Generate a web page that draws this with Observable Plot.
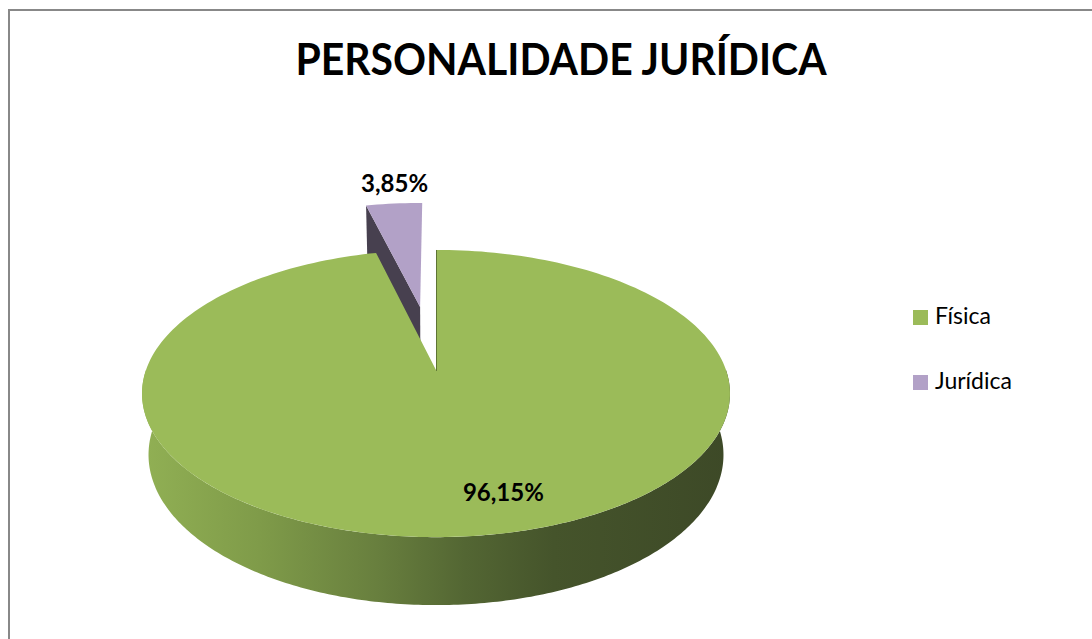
<!DOCTYPE html>
<html><head><meta charset="utf-8">
<script src="https://cdn.jsdelivr.net/npm/d3@7"></script>
<script src="https://cdn.jsdelivr.net/npm/@observablehq/plot@0.6"></script>
<style>
html,body{margin:0;padding:0;background:#fff;}
#chart{position:relative;width:1092px;height:639px;overflow:hidden;font-family:Lato,"Open Sans",sans-serif;background:#fff;}
#frame{position:absolute;left:8px;top:9px;width:1200px;height:800px;border-left:2px solid #888;border-top:2px solid #888;box-sizing:border-box;}
#plot{position:absolute;left:0;top:0;}
#title{position:absolute;left:0;top:36px;width:1122px;text-align:center;font-weight:700;font-size:44px;line-height:44px;color:#000;white-space:nowrap;transform:scaleX(0.93);transform-origin:561px 0;}
.leg{position:absolute;left:913px;font-size:23px;line-height:23px;color:#000;white-space:nowrap;}
.sw{display:inline-block;width:15px;height:15px;margin-right:7px;vertical-align:-1px;}
</style>
</head><body>
<div id="chart">
  <div id="frame"></div>
  <div id="plot"></div>
  <div id="title">PERSONALIDADE JURÍDICA</div>
  <div id="legend"></div>
</div>
<script>
// ---- data ----
const categories = ["Física", "Jurídica"];
const values = [96.15, 3.85];
const labels = ["96,15%", "3,85%"];
const explosion = [0, 0.49];
const topColors = ["#9BBB59", "#B2A1C7"];

// ---- 3D pie geometry (perspective) ----
const D = 5.35, alpha = Math.asin(0.482), depth = 0.244;
const ca = Math.cos(alpha), sa = Math.sin(alpha);
const cam = [0, D * sa, D * ca];
function proj(X, Y, Z) {
  const yc = Y * ca - Z * sa;
  const d = D - (Y * sa + Z * ca);
  return {x: X * D / d, y: yc * D / d};
}
const total = d3.sum(values);
let acc = 0;
const slices = categories.map((c, i) => {
  const a0 = acc / total * 2 * Math.PI;
  acc += values[i];
  const a1 = acc / total * 2 * Math.PI;
  const mid = (a0 + a1) / 2;
  const ox = explosion[i] * Math.sin(mid), oz = -explosion[i] * Math.cos(mid);
  return {cat: c, i, a0, a1, mid, ox, oz, label: labels[i]};
});
const pt = (s, theta, r, Y) => proj(s.ox + r * Math.sin(theta), Y, s.oz - r * Math.cos(theta));

const N = 240;
const topRows = [], sideRows = [], faceRows = [], edgeRows = [];
for (const s of slices) {
  const n = Math.max(2, Math.ceil(N * (s.a1 - s.a0) / (2 * Math.PI)));
  for (let k = 0; k <= n; k++) {
    const th = s.a0 + (s.a1 - s.a0) * k / n;
    const c = pt(s, th, 0, 0), r = pt(s, th, 1, 0);
    topRows.push({cat: s.cat, x1: c.x, y1: c.y, x2: r.x, y2: r.y});
  }
  // outer side (front half only)
  const lo = Math.max(s.a0, Math.PI / 2), hi = Math.min(s.a1, 3 * Math.PI / 2);
  if (hi > lo) {
    for (let k = 0; k <= N; k++) {
      const th = lo + (hi - lo) * k / N;
      const t = pt(s, th, 1, 0), b = pt(s, th, 1, -depth);
      sideRows.push({cat: s.cat, x1: t.x, y1: t.y, x2: b.x, y2: b.y});
    }
  }
  // radial faces, visibility test
  for (const [ang, sign] of [[s.a0, -1], [s.a1, 1]]) {
    const nx = sign * Math.cos(ang), nz = sign * Math.sin(ang);
    const px = s.ox + 0.5 * Math.sin(ang), pz = s.oz - 0.5 * Math.cos(ang);
    const dot = (cam[0] - px) * nx + (cam[2] - pz) * nz;
    if (dot > 0.5 && explosion[s.i] > 0) {
      for (const r of [0, 1]) {
        const t = pt(s, ang, r, 0), b = pt(s, ang, r, -depth);
        faceRows.push({cat: s.cat, x1: t.x, y1: t.y, x2: b.x, y2: b.y});
      }
    } else if (Math.abs(dot) < 0.05) {
      for (const r of [0, 1]) { const t = pt(s, ang, r, 0); edgeRows.push({cat: s.cat, x: t.x, y: t.y}); }
    }
  }
}
const fis = slices[0], jur = slices[1];
const fisLab = pt(fis, fis.mid, 0.75, 0);
const jurLab = pt(jur, jur.mid, 1, 0);
const labelRows = [
  {x: fisLab.x, y: fisLab.y, text: fis.label},
  {x: jurLab.x, y: jurLab.y, text: jur.label}
];

const W = 1092, H = 639, cx = 436, cy = 370, unit = 290;
const plot = Plot.plot({
  width: W, height: H, margin: 0,
  x: {domain: [-cx / unit, (W - cx) / unit], axis: null},
  y: {domain: [(cy - H) / unit, cy / unit], axis: null},
  color: {domain: categories, range: topColors},
  style: {background: "transparent", overflow: "visible"},
  marks: [
    Plot.area(faceRows.filter(d => d.cat === "Jurídica"), {x1: "x1", y1: "y1", x2: "x2", y2: "y2", fill: "#47404F"}),
    Plot.area(topRows.filter(d => d.cat === "Jurídica"), {x1: "x1", y1: "y1", x2: "x2", y2: "y2", fill: "cat"}),
    Plot.area(sideRows, {x1: "x1", y1: "y1", x2: "x2", y2: "y2", fill: "url(#sideGrad)"}),
    Plot.area(topRows.filter(d => d.cat === "Física"), {x1: "x1", y1: "y1", x2: "x2", y2: "y2", fill: "cat"}),
    Plot.line(edgeRows.filter(d => d.cat === "Física"), {x: "x", y: "y", stroke: "#5E7434", strokeWidth: 1}),
    Plot.text(labelRows.slice(0, 1), {x: "x", y: "y", text: "text", dx: 37, dy: 4, fontSize: 24, fontWeight: "bold", fill: "#000", fontFamily: "Lato"}),
    Plot.text(labelRows.slice(1), {x: "x", y: "y", text: "text", dy: -20, fontSize: 24, fontWeight: "bold", fill: "#000", fontFamily: "Lato"})
  ]
});
const defs = d3.select(plot).insert("defs", ":first-child");
const g = defs.append("linearGradient").attr("id", "sideGrad").attr("x1", "0").attr("x2", "1").attr("y1", "0").attr("y2", "0");
[[0, "#91B054"], [0.2, "#7F9B49"], [0.4, "#687F3E"], [0.55, "#536633"], [0.7, "#45542B"], [1, "#3D4927"]]
  .forEach(([o, c]) => g.append("stop").attr("offset", o).attr("stop-color", c));
document.getElementById("plot").appendChild(plot);

// legend
const legend = document.getElementById("legend");
categories.forEach((c, i) => {
  const div = document.createElement("div");
  div.className = "leg";
  div.style.top = (304 + i * 65) + "px";
  div.innerHTML = `<span class="sw" style="background:${topColors[i]}"></span>${c}`;
  legend.appendChild(div);
});
</script>
</body></html>
